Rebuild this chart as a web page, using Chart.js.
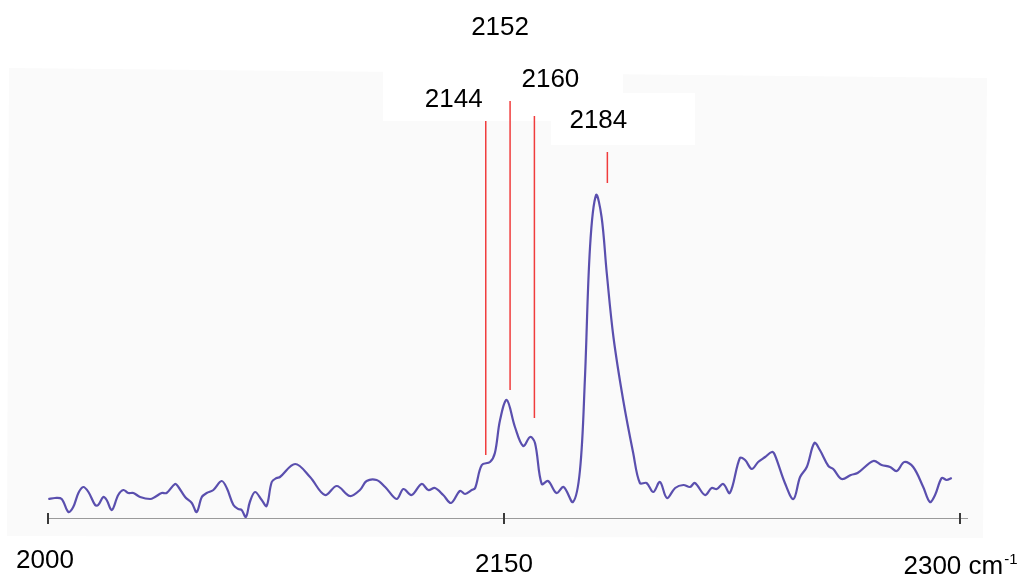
<!DOCTYPE html>
<html>
<head>
<meta charset="utf-8">
<title>IR spectrum 2000–2300 cm⁻¹</title>
<script src="https://cdn.jsdelivr.net/npm/chart.js@4/dist/chart.umd.min.js"></script>
<style>
  html, body { margin: 0; padding: 0; background: #ffffff; }
  canvas { display: block; }
</style>
</head>
<body>
<canvas id="spectrum" width="1024" height="577"></canvas>
<script>
// Wavenumber (cm-1) and absorbance of the measured spectrum
const wavenumber = [
  2000.1, 2002.3, 2004.5, 2006.7, 2008.3, 2010.0, 2011.6, 2013.3, 2015.5, 2016.5,
  2018.2, 2019.3, 2021.0, 2023.1, 2024.8, 2026.4, 2028.1, 2030.3, 2033.6, 2035.2,
  2037.4, 2039.0, 2041.8, 2042.9, 2045.1, 2047.3, 2048.9, 2050.6, 2052.2, 2054.4,
  2057.1, 2058.8, 2061.0, 2062.6, 2063.7, 2065.1, 2066.4, 2068.1, 2070.3, 2071.9,
  2073.6, 2075.2, 2076.3, 2081.3, 2086.2, 2091.1, 2095.0, 2099.3, 2102.6, 2104.8,
  2108.1, 2110.9, 2114.7, 2116.9, 2119.6, 2122.9, 2125.1, 2127.3, 2130.0, 2132.6,
  2135.5, 2137.2, 2139.4, 2140.5, 2142.7, 2145.4, 2147.0, 2148.7, 2150.9, 2153.6,
  2156.3, 2158.6, 2160.2, 2162.4, 2164.5, 2167.3, 2169.6, 2172.7, 2175.0, 2176.6,
  2178.3, 2180.3, 2182.1, 2183.8, 2186.0, 2189.2, 2192.5, 2194.7, 2196.9, 2199.1,
  2201.3, 2203.6, 2206.3, 2209.0, 2211.2, 2212.8, 2216.1, 2218.3, 2220.0, 2222.1,
  2224.3, 2227.6, 2229.3, 2231.5, 2233.6, 2235.9, 2238.1, 2239.1, 2242.4, 2245.2,
  2247.4, 2249.6, 2252.1, 2253.9, 2256.7, 2258.3, 2261.1, 2264.1, 2266.3, 2271.5,
  2274.2, 2277.0, 2279.2, 2281.7, 2284.6, 2287.9, 2290.1, 2291.8, 2294.0, 2295.6,
  2297.3
];
const absorbance = [
  0.019, 0.020, 0.019, 0.006, 0.011, 0.025, 0.031, 0.026, 0.013, 0.013,
  0.021, 0.018, 0.008, 0.023, 0.028, 0.025, 0.025, 0.021, 0.019, 0.021,
  0.025, 0.025, 0.034, 0.031, 0.021, 0.015, 0.006, 0.021, 0.025, 0.028,
  0.037, 0.030, 0.013, 0.009, 0.008, 0.001, 0.016, 0.026, 0.018, 0.012,
  0.036, 0.040, 0.041, 0.054, 0.041, 0.023, 0.032, 0.022, 0.028, 0.037,
  0.038, 0.031, 0.019, 0.029, 0.023, 0.034, 0.028, 0.030, 0.023, 0.015,
  0.027, 0.024, 0.028, 0.030, 0.053, 0.056, 0.065, 0.098, 0.118, 0.091,
  0.072, 0.081, 0.075, 0.034, 0.037, 0.025, 0.031, 0.016, 0.048, 0.138,
  0.271, 0.323, 0.301, 0.245, 0.181, 0.118, 0.065, 0.035, 0.035, 0.026,
  0.036, 0.020, 0.030, 0.033, 0.031, 0.035, 0.023, 0.030, 0.029, 0.034,
  0.025, 0.060, 0.058, 0.049, 0.056, 0.061, 0.066, 0.063, 0.035, 0.019,
  0.041, 0.051, 0.075, 0.068, 0.052, 0.049, 0.039, 0.043, 0.045, 0.057,
  0.053, 0.051, 0.047, 0.056, 0.051, 0.031, 0.016, 0.023, 0.040, 0.038,
  0.040
];

// Band assignments: position (cm-1) and vertical extent of each marker line
const bandPositions = [2144, 2152, 2160, 2184];
const bandLineFrom = [0.063, 0.128, 0.100, 0.335];
const bandLineTo = [0.397, 0.417, 0.402, 0.366];

// Axis ticks and unit
const tickValues = [2000, 2150, 2300];
const axisUnit = 'cm';
const axisUnitExp = '-1';

const X_MIN = 2000, X_MAX = 2300;
const Y_MIN = 0, Y_MAX = 0.448;

const FONT = '26px "Liberation Sans", Arial, sans-serif';
const SUP_FONT = '15px "Liberation Sans", Arial, sans-serif';

// Light paper panel behind the plot with clear boxes around the band labels
const paperPanel = {
  id: 'paperPanel',
  beforeDraw(chart) {
    const ctx = chart.ctx;
    ctx.save();
    ctx.fillStyle = '#ffffff';
    ctx.fillRect(0, 0, chart.width, chart.height);
    ctx.fillStyle = '#fafafa';
    ctx.beginPath();
    ctx.moveTo(9, 68);
    ctx.lineTo(987, 78);
    ctx.lineTo(983, 538);
    ctx.lineTo(7, 536);
    ctx.closePath();
    ctx.fill();
    ctx.fillStyle = '#ffffff';
    ctx.fillRect(383, 60, 168, 61);
    ctx.fillRect(551, 60, 72, 33);
    ctx.fillRect(551, 93, 144, 52);
    ctx.restore();
  }
};

// Axis line, tick marks, tick labels and band labels
const annotations = {
  id: 'annotations',
  afterDraw(chart, args, opts) {
    const ctx = chart.ctx;
    const xs = chart.scales.x;
    const ys = chart.scales.y;
    const y0 = ys.getPixelForValue(Y_MIN);
    ctx.save();

    // axis line
    ctx.strokeStyle = '#9a9a9a';
    ctx.lineWidth = 1;
    ctx.beginPath();
    ctx.moveTo(xs.getPixelForValue(X_MIN), y0 + 0.5);
    ctx.lineTo(xs.getPixelForValue(X_MAX) + 8, y0 + 0.5);
    ctx.stroke();

    // tick marks
    ctx.strokeStyle = '#3a3a3a';
    ctx.lineWidth = 2;
    tickValues.forEach(v => {
      const px = Math.round(xs.getPixelForValue(v));
      ctx.beginPath();
      ctx.moveTo(px, y0 - 5);
      ctx.lineTo(px, y0 + 6);
      ctx.stroke();
    });

    // tick labels, the last one carries the unit
    ctx.fillStyle = '#000000';
    ctx.textBaseline = 'alphabetic';
    tickValues.forEach((v, i) => {
      const px = xs.getPixelForValue(v);
      const base = y0 + opts.tickLabelOffset[i];
      const main = String(v) + (i === tickValues.length - 1 ? ' ' + axisUnit : '');
      ctx.font = FONT;
      const wMain = ctx.measureText(main).width;
      let wSup = 0;
      if (i === tickValues.length - 1) {
        ctx.font = SUP_FONT;
        wSup = ctx.measureText(axisUnitExp).width;
      }
      const left = px - (wMain + wSup) / 2 + opts.tickLabelDx[i];
      ctx.font = FONT;
      ctx.textAlign = 'left';
      ctx.fillText(main, left, base);
      if (wSup) {
        ctx.font = SUP_FONT;
        ctx.fillText(axisUnitExp, left + wMain + 1, base - 10);
      }
    });

    // band labels above the marker lines
    ctx.font = FONT;
    ctx.textAlign = 'center';
    bandPositions.forEach((v, i) => {
      const px = xs.getPixelForValue(v) + opts.labelDx[i];
      ctx.fillText(String(v), px, opts.labelBaseline[i]);
    });
    ctx.restore();
  }
};

const datasets = [{
  label: 'spectrum',
  data: wavenumber.map((x, i) => ({ x: x, y: absorbance[i] })),
  borderColor: '#5a4fae',
  borderWidth: 2.2,
  pointRadius: 0,
  fill: false,
  tension: 0.35,
  clip: false
}];
bandPositions.forEach((v, i) => {
  datasets.push({
    label: 'band ' + v,
    data: [{ x: v, y: bandLineFrom[i] }, { x: v, y: bandLineTo[i] }],
    borderColor: '#f03c3c',
    borderWidth: 1.5,
    pointRadius: 0,
    fill: false,
    clip: false
  });
});

new Chart(document.getElementById('spectrum'), {
  type: 'line',
  data: { datasets: datasets },
  options: {
    responsive: false,
    animation: false,
    events: [],
    layout: { padding: { left: 48, right: 64, top: 70, bottom: 59 } },
    scales: {
      x: { type: 'linear', min: X_MIN, max: X_MAX, display: false },
      y: { type: 'linear', min: Y_MIN, max: Y_MAX, display: false }
    },
    plugins: {
      legend: { display: false },
      tooltip: { enabled: false },
      annotations: {
        tickLabelOffset: [50, 54, 56],
        tickLabelDx: [-3, 0, 0],
        labelDx: [-32, -10, 16, -9],
        labelBaseline: [107, 35, 87, 128]
      }
    }
  },
  plugins: [paperPanel, annotations]
});
</script>
</body>
</html>
